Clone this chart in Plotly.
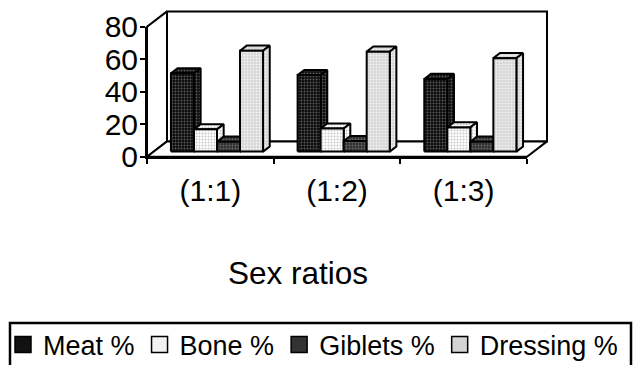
import plotly.graph_objects as go

# ---- data -------------------------------------------------------------
ratios = ["(1:1)", "(1:2)", "(1:3)"]
series = ["Meat %", "Bone %", "Giblets %", "Dressing %"]
meat = [48.2, 47.1, 44.7]
bone = [13.7, 14.2, 14.9]
giblets = [6.1, 6.5, 6.1]
dressing = [62.1, 61.5, 57.5]
y_ticks = [0, 20, 40, 60, 80]
y_max = 80

values = [meat, bone, giblets, dressing]

# face styles per series: (background, dot colour)
styles = [
    ("#0a0a0a", "#5a5a5a"),
    ("#ffffff", "#c8c8c8"),
    ("#2e2e2e", "#6a6a6a"),
    ("#d6d6d6", "#f4f4f4"),
]
legend_colors = ["#111111", "#f2f2f2", "#333333", "#d4d4d4"]

# ---- page geometry ------------------------------------------------------
W, H = 633, 365
FX0, FX1 = 147.0, 527.0        # front plane left / right (px)
FY0, FYTOP = 156.7, 26.7       # front plane baseline / top (px)
DEPTH_X, DEPTH_Y = 20.0, 15.3  # oblique offset of the back wall (px)

n_cat = len(ratios)
px_cat = (FX1 - FX0) / n_cat
px_val = (FY0 - FYTOP) / y_max
du = DEPTH_X / px_cat
dv = DEPTH_Y / px_val

bar_w = 1 / 5.5           # four bars plus a 150 % gap per category
f_front, f_back = 1 / 3, 2 / 3   # depth slice occupied by the columns


def proj(u, v, f):
    """oblique projection: category units, value units, depth fraction"""
    return u + f * du, v + f * dv


def poly(pts):
    xs, ys = zip(*[proj(*p) for p in pts])
    return list(xs) + [xs[0]], list(ys) + [ys[0]]


fig = go.Figure()


def face(pts, fill, dots=None, lw=2):
    xs, ys = poly(pts)
    kw = {}
    if dots:
        kw["fillpattern"] = dict(shape=".", bgcolor=fill, fgcolor=dots,
                                 size=3, solidity=0.35, fillmode="replace")
    fig.add_trace(go.Scatter(
        x=xs, y=ys, mode="lines", fill="toself", fillcolor=fill,
        line=dict(color="black", width=lw), hoverinfo="skip",
        showlegend=False, **kw))


# walls and floor
face([(0, 0, 0), (0, 0, 1), (0, y_max, 1), (0, y_max, 0)], "white")
face([(0, 0, 1), (n_cat, 0, 1), (n_cat, y_max, 1), (0, y_max, 1)], "white")
face([(0, 0, 0), (n_cat, 0, 0), (n_cat, 0, 1), (0, 0, 1)], "white")

# columns, painted left to right so each hides its neighbour's side
for i in range(n_cat):
    start = i + 0.5 - 2 * bar_w
    for k, vals in enumerate(values):
        v = vals[i]
        uL = start + k * bar_w
        uR = uL + bar_w
        bg, fg = styles[k]
        face([(uL, v, f_front), (uR, v, f_front), (uR, v, f_back), (uL, v, f_back)], bg, fg)
        face([(uR, 0, f_front), (uR, 0, f_back), (uR, v, f_back), (uR, v, f_front)], bg, fg)
        face([(uL, 0, f_front), (uR, 0, f_front), (uR, v, f_front), (uL, v, f_front)], bg, fg)

# legend entries
for name, col in zip(series, legend_colors):
    fig.add_trace(go.Scatter(
        x=[None], y=[None], mode="markers", name=name,
        marker=dict(symbol="square", size=16, color=col,
                    line=dict(color="black", width=1.5))))

# front-plane axes carrying the ticks and labels
fig.add_trace(go.Scatter(x=ratios, y=[None] * n_cat, xaxis="x2", yaxis="y2",
                         mode="markers", showlegend=False, hoverinfo="skip"))

font = "Liberation Sans, Arial, sans-serif"
fig.update_layout(
    width=W, height=H,
    margin=dict(l=0, r=0, t=0, b=0, autoexpand=False),
    paper_bgcolor="white", plot_bgcolor="rgba(0,0,0,0)",
    font=dict(family=font, color="black"),
    xaxis=dict(domain=[0, 1], range=[-FX0 / px_cat, (W - FX0) / px_cat],
               visible=False, fixedrange=True),
    yaxis=dict(domain=[0, 1], range=[-(H - FY0) / px_val, FY0 / px_val],
               visible=False, fixedrange=True),
    xaxis2=dict(domain=[FX0 / W, FX1 / W], anchor="y2", type="category",
                categoryorder="array", categoryarray=ratios,
                range=[-0.5, n_cat - 0.5], tickson="boundaries",
                ticks="outside", ticklen=5, tickwidth=2, tickcolor="black",
                showline=True, linewidth=2, linecolor="black",
                showgrid=False, zeroline=False, ticklabelstandoff=6,
                tickfont=dict(size=30, family=font)),
    yaxis2=dict(domain=[(H - FY0) / H, (H - FYTOP) / H], anchor="x2",
                range=[0, y_max], tickvals=y_ticks,
                ticks="outside", ticklen=5, tickwidth=2, tickcolor="black",
                showline=True, linewidth=2, linecolor="black",
                showgrid=False, zeroline=False, ticklabelstandoff=-4,
                tickfont=dict(size=30, family=font)),
    legend=dict(orientation="h", x=3 / W, xanchor="left",
                y=(H - 345) / H, yanchor="middle",
                font=dict(size=27, family=font),
                bgcolor="rgba(0,0,0,0)", borderwidth=0,
                itemsizing="trace", tracegroupgap=0),
    showlegend=True,
    annotations=[dict(text="Sex ratios", xref="paper", yref="paper",
                      x=298 / W, y=(H - 273) / H, showarrow=False,
                      xanchor="center", yanchor="middle",
                      font=dict(size=31.5, family=font))],
    shapes=[dict(type="rect", xref="paper", yref="paper",
                 x0=10 / W, x1=631 / W, y0=-0.1, y1=(H - 323) / H,
                 line=dict(color="black", width=2.5))],
)

fig.write_html("out.html")
